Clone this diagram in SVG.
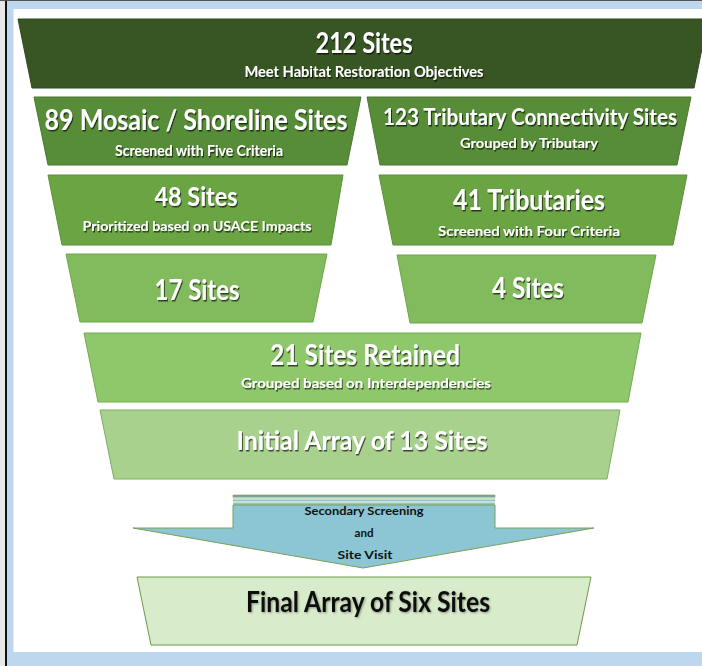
<svg xmlns="http://www.w3.org/2000/svg" width="702" height="666" viewBox="0 0 702 666">
<defs>
<filter id="sh" x="-10%" y="-30%" width="120%" height="160%">
<feDropShadow dx="1" dy="1.5" stdDeviation="0.7" flood-color="#000" flood-opacity="0.65"/>
</filter>
<filter id="shl" x="-10%" y="-30%" width="120%" height="160%">
<feDropShadow dx="1" dy="1" stdDeviation="0.8" flood-color="#000" flood-opacity="0.35"/>
</filter>
</defs>
<style>
text{font-family:Lato,"Liberation Sans",Arial,sans-serif;font-weight:bold;text-anchor:middle}
.w{fill:#fff;filter:url(#sh)}
.k{fill:#111;filter:url(#shl)}
.a{fill:#111;font-size:12px}
.t{stroke-width:1}
</style>
<rect x="0" y="0" width="702" height="666" fill="#e8e8e8"/>
<rect x="7" y="0" width="695" height="666" fill="#bdd7ee"/>
<rect x="13.5" y="9" width="688.5" height="643" fill="#fff"/>
<rect x="5" y="0" width="2" height="666" fill="#111"/>
<rect x="0" y="0" width="702" height="1" fill="#555"/>

<g id="n212">
<polygon class="t" points="18,19 708,19 694,88 32,88" fill="#375623" stroke="#2e4a1d"/>
<text class="w" x="364" y="53" font-size="29" textLength="97" lengthAdjust="spacingAndGlyphs">212 Sites</text>
<text class="w" x="364" y="77" font-size="15" textLength="239" lengthAdjust="spacingAndGlyphs">Meet Habitat Restoration Objectives</text>
</g>

<g id="n89">
<polygon class="t" points="34,97 361,97 347,165 48,165" fill="#578c38" stroke="#4a7a2e"/>
<text class="w" x="196" y="130" font-size="28" textLength="303" lengthAdjust="spacingAndGlyphs">89 Mosaic / Shoreline Sites</text>
<text class="w" x="199" y="156" font-size="15" textLength="168" lengthAdjust="spacingAndGlyphs">Screened with Five Criteria</text>
</g>

<g id="n123">
<polygon class="t" points="367,97 691,97 677,165 380,165" fill="#578c38" stroke="#4a7a2e"/>
<text class="w" x="530" y="125" font-size="22" textLength="294" lengthAdjust="spacingAndGlyphs">123 Tributary Connectivity Sites</text>
<text class="w" x="529" y="148" font-size="14" textLength="138" lengthAdjust="spacingAndGlyphs">Grouped by Tributary</text>
</g>

<g id="n48">
<polygon class="t" points="48,175 343,175 331,245 62,245" fill="#6aa443" stroke="#5b9238"/>
<text class="w" x="196" y="206" font-size="27" textLength="83" lengthAdjust="spacingAndGlyphs">48 Sites</text>
<text class="w" x="197" y="231" font-size="14" textLength="229" lengthAdjust="spacingAndGlyphs">Prioritized based on USACE Impacts</text>
</g>

<g id="n41">
<polygon class="t" points="379,175 687,175 673,245 393,245" fill="#6aa443" stroke="#5b9238"/>
<text class="w" x="529" y="210" font-size="28" textLength="152" lengthAdjust="spacingAndGlyphs">41 Tributaries</text>
<text class="w" x="529" y="236" font-size="14" textLength="182" lengthAdjust="spacingAndGlyphs">Screened with Four Criteria</text>
</g>

<g id="n17">
<polygon class="t" points="66,254 327,254 313,322 80,322" fill="#82bb5d" stroke="#6ea64b"/>
<text class="w" x="197" y="300" font-size="28" textLength="85" lengthAdjust="spacingAndGlyphs">17 Sites</text>
</g>

<g id="n4">
<polygon class="t" points="397,255 656,255 642,323 410,323" fill="#82bb5d" stroke="#6ea64b"/>
<text class="w" x="528" y="298" font-size="28" textLength="72" lengthAdjust="spacingAndGlyphs">4 Sites</text>
</g>

<g id="n21">
<polygon class="t" points="84,333 641,333 628,402 98,402" fill="#8fc76b" stroke="#74aa52"/>
<text class="w" x="365" y="365" font-size="28" textLength="190" lengthAdjust="spacingAndGlyphs">21 Sites Retained</text>
<text class="w" x="366" y="388" font-size="14" textLength="250" lengthAdjust="spacingAndGlyphs">Grouped based on Interdependencies</text>
</g>

<g id="n13">
<polygon class="t" points="100,410 620,410 607,479 114,479" fill="#a9d18e" stroke="#7fae62"/>
<text class="w" x="362" y="450" font-size="26" textLength="251" lengthAdjust="spacingAndGlyphs">Initial Array  of 13 Sites</text>
</g>

<g id="nScreen">
<rect x="233" y="495" width="262" height="2.5" fill="#77a79e" stroke="#7d9f55" stroke-width="0.6"/>
<rect x="233" y="497.5" width="262" height="2" fill="#d2e3c8"/>
<rect x="233" y="499.5" width="262" height="2" fill="#8fc4cf"/>
<rect x="233" y="501.5" width="262" height="1.2" fill="#d2e3c8"/>
<rect x="233" y="502.7" width="262" height="2.3" fill="#8fc4cf"/>
<polygon points="233,505 495,505 495,528 594,528 363,568 133,528 233,528" fill="#8cc5d3" stroke="#7d9f55" stroke-width="1"/>
<text class="a" x="364" y="515" textLength="119" lengthAdjust="spacingAndGlyphs">Secondary Screening</text>
<text class="a" x="364" y="537" textLength="19" lengthAdjust="spacingAndGlyphs">and</text>
<text class="a" x="365" y="559" textLength="55" lengthAdjust="spacingAndGlyphs">Site Visit</text>
</g>

<g id="nFinal">
<polygon class="t" points="137,577 591,577 577,645 151,645" fill="#d8ebca" stroke="#6f9a4a"/>
<text class="k" x="368" y="612" font-size="28" textLength="244" lengthAdjust="spacingAndGlyphs">Final Array  of Six Sites</text>
</g>

<g id="connectors"/>
</svg>
